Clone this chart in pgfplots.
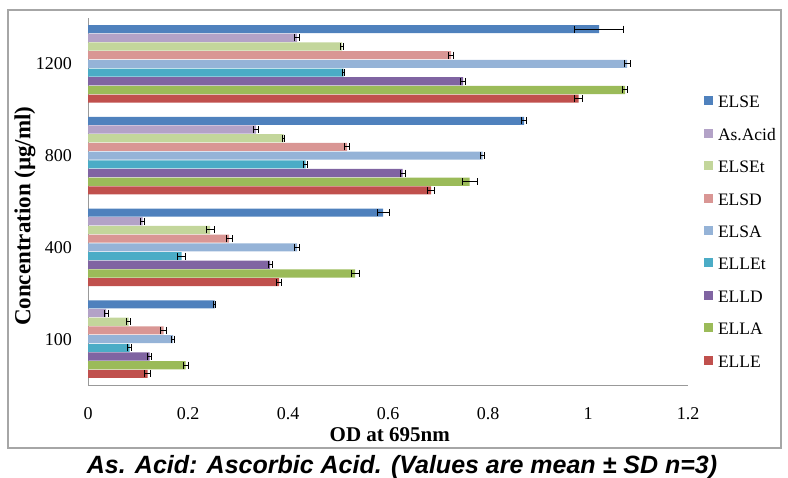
\documentclass[border=0pt]{standalone}
\usepackage{pgfplots}
\pgfplotsset{compat=1.18}
\usepackage{pgfplotstable}
\usepackage{fontspec}
\setmainfont{Liberation Serif}
\newfontfamily\capfont{Liberation Sans}
\definecolor{cELSE}{HTML}{4F81BD}
\definecolor{cAsA}{HTML}{B3A2C7}
\definecolor{cELSEt}{HTML}{C3D69B}
\definecolor{cELSD}{HTML}{D99694}
\definecolor{cELSA}{HTML}{95B3D7}
\definecolor{cELLEt}{HTML}{4BACC6}
\definecolor{cELLD}{HTML}{8064A2}
\definecolor{cELLA}{HTML}{9BBB59}
\definecolor{cELLE}{HTML}{C0504D}
\pgfplotstableread{
g ELLE ELLEe ELLA ELLAe ELLD ELLDe ELLEt ELLEte ELSA ELSAe ELSD ELSDe ELSEt ELSEte AsA AsAe ELSE ELSEe
0 0.119 0.005 0.195 0.005 0.123 0.004 0.083 0.004 0.170 0.003 0.151 0.005 0.081 0.004 0.036 0.004 0.253 0.002
1 0.382 0.005 0.534 0.008 0.364 0.004 0.187 0.008 0.418 0.005 0.282 0.006 0.244 0.008 0.109 0.004 0.590 0.012
2 0.686 0.007 0.763 0.015 0.629 0.005 0.435 0.004 0.789 0.004 0.518 0.005 0.391 0.002 0.336 0.005 0.872 0.005
3 0.981 0.008 1.074 0.005 0.750 0.005 0.511 0.002 1.078 0.006 0.726 0.005 0.508 0.003 0.418 0.005 1.022 0.049
}\data
\pgfplotsset{sq/.style={legend image code/.code={\fill[##1,draw=none] (0pt,-3.5pt) rectangle (9pt,5.5pt);}}}
\begin{document}
\begin{tikzpicture}
\path[use as bounding box] (0pt,0pt) rectangle (788pt,478pt);
\draw[black!35, line width=1.5pt] (8pt,30pt) rectangle (781pt,468pt);
\begin{axis}[
  at={(88pt,93pt)}, anchor=south west,
  width=600pt, height=367pt, scale only axis,
  xbar, bar width=8.1pt,
  xmin=0, xmax=1.2, ymin=-0.5, ymax=3.5,
  enlargelimits=false,
  axis lines*=left,
  axis line style={draw=black!40, line width=0.8pt},
  xtick={0,0.2,0.4,0.6,0.8,1,1.2},
  ytick={0,1,2,3},
  yticklabels={100,400,800,1200},
  major tick length=0pt,
  /pgf/number format/assume math mode=true,
  ticklabel style={font=\fontsize{18}{20}\selectfont},
  xticklabel style={anchor=base, yshift=-35pt},
  yticklabel style={anchor=east, xshift=-16pt, inner sep=0pt},
  xlabel={\textbf{OD at 695nm}},
  xlabel style={font=\fontsize{21}{24}\selectfont, at={(axis description cs:0.503,0)}, anchor=base, yshift=-57pt},
  ylabel={\textbf{Concentration (µg/ml)}},
  ylabel style={font=\fontsize{23}{26}\selectfont, at={(axis description cs:-0.105,0.46)}, anchor=center},
  error bars/x dir=both, error bars/x explicit,
  error bars/error mark=|,
  error bars/error bar style={line width=1pt, black},
  error bars/error mark options={line width=1pt, mark size=3.5pt, black},
  reverse legend,
  legend style={at={(axis description cs:1.0267,0.7875)}, anchor=north west,
    draw=none, fill=none, inner sep=0pt, outer sep=0pt,
    font=\fontsize{17.5}{20}\selectfont,
    nodes={inner sep=0pt, text height=12pt, text depth=0pt},
    row sep=20.4pt, column sep=5pt},
  legend cell align=left,
]
\addplot[sq, fill=cELLE, draw=none, bar shift=-34.8pt] table[y=g, x=ELLE, x error=ELLEe]{\data};
\addplot[sq, fill=cELLA, draw=none, bar shift=-26.1pt] table[y=g, x=ELLA, x error=ELLAe]{\data};
\addplot[sq, fill=cELLD, draw=none, bar shift=-17.4pt] table[y=g, x=ELLD, x error=ELLDe]{\data};
\addplot[sq, fill=cELLEt, draw=none, bar shift=-8.7pt] table[y=g, x=ELLEt, x error=ELLEte]{\data};
\addplot[sq, fill=cELSA, draw=none, bar shift=0pt] table[y=g, x=ELSA, x error=ELSAe]{\data};
\addplot[sq, fill=cELSD, draw=none, bar shift=8.7pt] table[y=g, x=ELSD, x error=ELSDe]{\data};
\addplot[sq, fill=cELSEt, draw=none, bar shift=17.4pt] table[y=g, x=ELSEt, x error=ELSEte]{\data};
\addplot[sq, fill=cAsA, draw=none, bar shift=26.1pt] table[y=g, x=AsA, x error=AsAe]{\data};
\addplot[sq, fill=cELSE, draw=none, bar shift=34.8pt] table[y=g, x=ELSE, x error=ELSEe]{\data};
\legend{ELLE,ELLA,ELLD,ELLEt,ELSA,ELSD,ELSEt,As.Acid,ELSE}
\end{axis}
\node[font=\capfont\bfseries\itshape\fontsize{25}{30}\selectfont, anchor=base] at (402pt,4pt) {As. Acid: Ascorbic Acid. (Values are mean ± SD n=3)};
\end{tikzpicture}
\end{document}
